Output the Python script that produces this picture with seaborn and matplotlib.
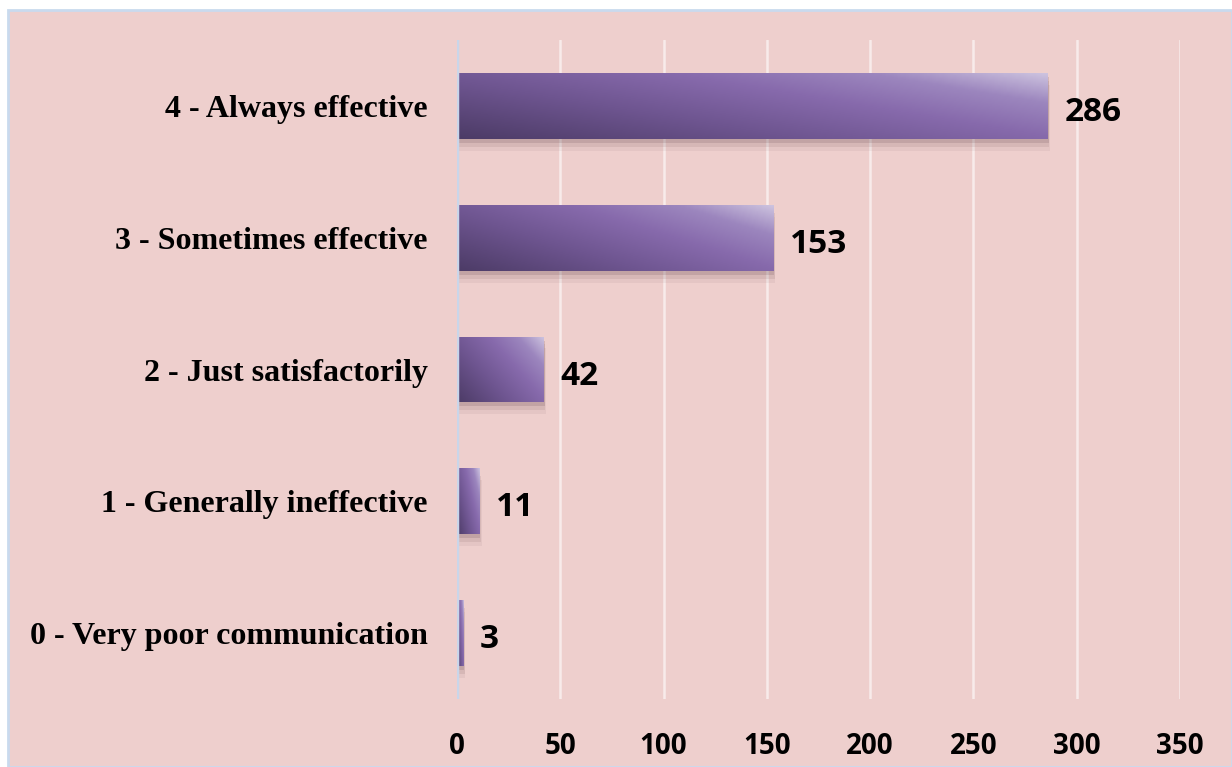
import numpy as np
import pandas as pd
import matplotlib.pyplot as plt
import matplotlib.patches as mpatches
from matplotlib.colors import LinearSegmentedColormap
import seaborn as sns

# data
categories = ["4 - Always effective", "3 - Sometimes effective", "2 - Just satisfactorily",
              "1 - Generally ineffective", "0 - Very poor communication"]
counts = [286, 153, 42, 11, 3]
xticks = [0, 50, 100, 150, 200, 250, 300, 350]

df = pd.DataFrame({"category": categories, "count": counts})

sns.set_theme(style="white")
bg = "#EECFCD"

fig = plt.figure(figsize=(12.32, 7.67), dpi=100)
fig.patch.set_facecolor("white")
# pink panel with light blue border
fig.patches.append(mpatches.Rectangle((8 / 1232, 0), 1 - 8 / 1232, 1 - 10 / 767,
                                      transform=fig.transFigure, facecolor=bg,
                                      edgecolor="#C9DAEE", linewidth=2, zorder=-10))

ax = fig.add_axes([457 / 1232, 1 - 699 / 767, (1180 - 457) / 1232, (699 - 40) / 767])
ax.set_facecolor("none")

sns.barplot(data=df, x="count", y="category", orient="h", width=0.5,
            color="#8A6FAF", linewidth=0, ax=ax, zorder=3)

ax.set_xlim(0, 350)
ax.set_xticks(xticks)
ax.set_xticklabels([str(t) for t in xticks])
ax.set_yticks(range(len(categories)))
ax.set_yticklabels(categories)
for lab in ax.get_xticklabels():
    lab.set_fontfamily("Open Sans")
    lab.set_fontweight("bold")
    lab.set_fontsize(20)
for lab in ax.get_yticklabels():
    lab.set_fontfamily("Liberation Serif")
    lab.set_fontweight("bold")
    lab.set_fontsize(23)
ax.tick_params(axis="x", length=0, pad=24, colors="black")
ax.tick_params(axis="y", length=0, pad=21, colors="black")
ax.set_xlabel("")
ax.set_ylabel("")
for s in ax.spines.values():
    s.set_visible(False)

# white gridlines and zero line
for t in xticks[1:]:
    ax.axvline(t, color="white", alpha=0.6, linewidth=1.8, zorder=1)
ax.axvline(0, color="#C9D6EA", linewidth=2.5, zorder=5)

# gradient fill for bars
cmap = LinearSegmentedColormap.from_list(
    "purp", [(0, "#4C3B66"), (0.35, "#6E5590"), (0.62, "#876AAC"), (0.82, "#9C86BE"), (1, "#CDC3DF")])
gy, gx = np.mgrid[0:1:100j, 0:1:200j]
grad = 0.6 * gx + 0.4 * (1 - gy)
for bar, v in zip(ax.patches, counts):
    x0, y0 = bar.get_x(), bar.get_y()
    w, h = bar.get_width(), bar.get_height()
    # soft shadow
    for k, a in [(0.03, 0.18), (0.06, 0.12), (0.09, 0.07)]:
        ax.add_patch(mpatches.Rectangle((x0, y0 + k), w + k * 12, h, facecolor="#6E4E55",
                                        alpha=a, edgecolor="none", zorder=2))
    im = ax.imshow(grad, cmap=cmap, extent=(x0, x0 + w, y0 + h, y0), origin="upper",
                   aspect="auto", zorder=4, vmin=0, vmax=1)
    im.set_clip_path(bar)
    bar.set_facecolor("none")
    ax.text(x0 + w + 8, y0 + h / 2 + 0.05, str(v), va="center", ha="left",
            fontfamily="Open Sans", fontweight="bold", fontsize=24, color="black", zorder=6)

ax.set_ylim(4.5, -0.5)
ax.set_xlim(0, 350)

fig.savefig("out.png", dpi=100)
